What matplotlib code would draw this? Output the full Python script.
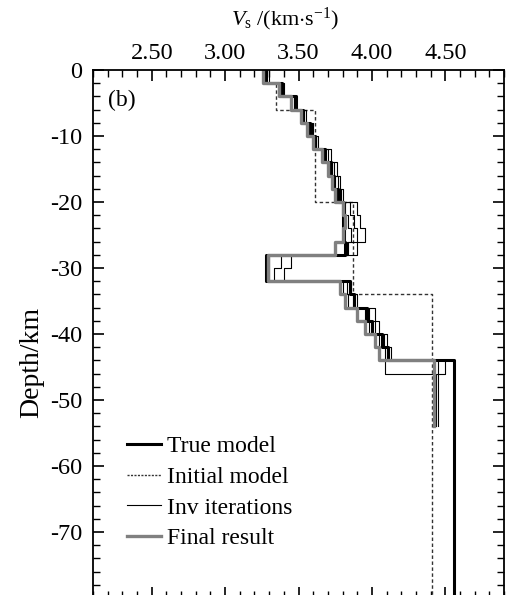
import matplotlib.pyplot as plt
import numpy as np
from matplotlib.ticker import MultipleLocator

plt.rcParams['font.family'] = 'Liberation Serif'
plt.rcParams['mathtext.fontset'] = 'custom'
plt.rcParams['mathtext.rm'] = 'Liberation Serif'
plt.rcParams['mathtext.it'] = 'Liberation Serif:italic'
plt.rcParams['axes.unicode_minus'] = False

# layer tops (km) every 2 km down to 44, then half-space
tops = list(range(0, -44, -2))
true_v = [3.28, 3.39, 3.48, 3.53, 3.58, 3.61, 3.68, 3.72, 3.74, 3.77, 3.80,
          3.80, 3.81, 3.82, 3.28, 3.28, 3.85, 3.88, 3.97, 4.00, 4.07, 4.11]
true_half = 4.56

init_tops = [0, -2, -6, -20, -34]
init_v = [3.28, 3.35, 3.61, 3.87, 4.41]

iter1 = [3.30, 3.36, 3.45, 3.55, 3.60, 3.62, 3.70, 3.76, 3.78, 3.80, 3.90,
         3.92, 3.95, 3.90, 3.45, 3.40, 3.86, 3.90, 4.02, 4.05, 4.10, 4.13]
iter1_deep = [4.50, 4.44]
iter2 = [3.27, 3.38, 3.47, 3.54, 3.57, 3.63, 3.72, 3.74, 3.77, 3.79, 3.85,
         3.88, 3.90, 3.84, 3.38, 3.33, 3.80, 3.84, 3.95, 3.98, 4.05, 4.09]
iter2_deep = [4.09, 4.43]
iter3 = [3.28, 3.40, 3.48, 3.53, 3.59, 3.62, 3.68, 3.73, 3.75, 3.78, 3.82,
         3.84, 3.86, 3.83, 3.30, 3.30, 3.83, 3.87, 3.98, 4.02, 4.08, 4.10]
iter3_deep = [4.45, 4.45]
final_v = [3.26, 3.37, 3.45, 3.52, 3.56, 3.60, 3.66, 3.70, 3.73, 3.75, 3.80,
           3.82, 3.80, 3.75, 3.29, 3.29, 3.78, 3.82, 3.90, 3.95, 4.02, 4.05]
final_deep = [4.42, 4.42]
deep_tops = [-44, -46]
inv_bottom = -54


def profile(layer_tops, vels, bottom):
    xs, ys = [], []
    bots = list(layer_tops[1:]) + [bottom]
    for t, b, v in zip(layer_tops, bots, vels):
        xs += [v, v]
        ys += [t, b]
    return xs, ys


fig = plt.figure(figsize=(5.08, 5.95), dpi=100)
ax = fig.add_axes([93/508, 1 - 598/595, 411/508, 528/595])

x, y = profile(init_tops, init_v, -80)
ax.plot(x, y, color='#333333', lw=1.0, ls=(0, (2.5, 1.8)))

x, y = profile(tops + [-44], true_v + [true_half], -80)
ax.plot(x, y, color='k', lw=2.2)

for it, deep in [(iter1, iter1_deep), (iter2, iter2_deep), (iter3, iter3_deep)]:
    x, y = profile(tops + deep_tops, it + deep, inv_bottom)
    ax.plot(x, y, color='k', lw=0.8)

x, y = profile(tops + deep_tops, final_v + final_deep, inv_bottom)
ax.plot(x, y, color='#808080', lw=2.4)

# legend handles
ax.plot([], [], color='k', lw=2.2, label='True model')
ax.plot([], [], color='#333333', lw=1.0, ls=(0, (1.5, 1)), label='Initial model')
ax.plot([], [], color='k', lw=0.8, label='Inv iterations')
ax.plot([], [], color='#808080', lw=2.4, label='Final result')
h, l = ax.get_legend_handles_labels()
ax.legend(h[-4:], l[-4:], loc='upper left', bbox_to_anchor=(0.03, 0.348),
          frameon=False, fontsize=17, handlelength=1.45, handletextpad=0.25,
          labelspacing=0.39)

ax.set_xlim(2.1, 4.9)
ax.set_ylim(-80, 0)
ax.xaxis.tick_top()
ax.xaxis.set_label_position('top')
ax.set_xticks([2.5, 3.0, 3.5, 4.0, 4.5])
ax.set_xticklabels(['2.50', '3.00', '3.50', '4.00', '4.50'])
ax.xaxis.set_minor_locator(MultipleLocator(0.1))
ax.yaxis.set_minor_locator(MultipleLocator(2))
ax.set_yticks([0, -10, -20, -30, -40, -50, -60, -70])
ax.tick_params(which='both', direction='in', top=True, bottom=True,
               left=True, right=True, labelsize=17.5)
ax.tick_params(which='major', length=8, width=1.2)
ax.tick_params(which='minor', length=5, width=1.0)
ax.tick_params(axis='x', pad=4)
ax.tick_params(axis='y', pad=8)
for s in ax.spines.values():
    s.set_linewidth(1.3)

ax.set_xlabel(r'$V_\mathrm{s}$ /(km$\cdot$s$^{\mathrm{-1}}$)', fontsize=16)
ax.xaxis.set_label_coords(0.467, 1.084)
ax.set_ylabel('Depth/km', fontsize=20)
ax.yaxis.set_label_coords(-0.118, 0.447)
ax.text(2.2, -5.5, '(b)', fontsize=17)

fig.savefig('out.png', dpi=100)
